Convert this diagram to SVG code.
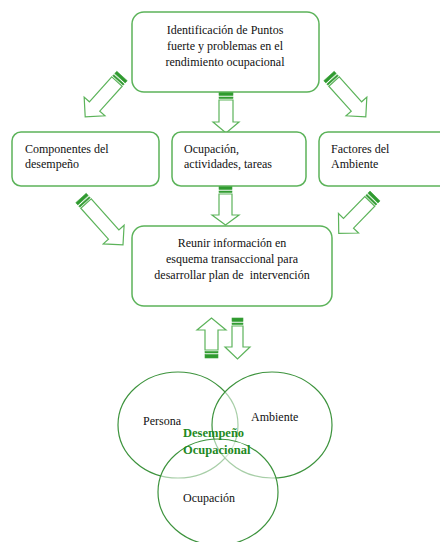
<svg xmlns="http://www.w3.org/2000/svg" width="440" height="542" viewBox="0 0 440 542">
  <style>
    .box { fill: #ffffff; stroke: #5cb35a; stroke-width: 1.5; }
    .txt { font-size: 12px; fill: #111111; }
    .mid { text-anchor: middle; }
    .arrow-body { fill: #ffffff; stroke: #5cb35a; stroke-width: 1.2; stroke-linejoin: miter; }
    .stripe { fill: #2f9a2f; stroke: #3aa03a; stroke-width: 0.6; }
    .ring { fill: #ffffff; fill-opacity: 0.55; stroke: #3d933d; stroke-width: 1.2; }
    .core { font-size: 12.5px; font-weight: bold; fill: #1f8a1f; }
  </style>

  <!-- Connectors: striped block arrows, drawn pointing along +y then placed -->
  <g id="connectors">
    <!-- top box to "Componentes del desempeño" -->
    <g transform="translate(122,76) rotate(42)">
      <rect class="stripe" x="-7" y="0" width="14" height="3"/>
      <rect class="stripe" x="-7" y="4.5" width="14" height="1.5"/>
      <path class="arrow-body" d="M-7,7.5 H7 V41 H14 L0,55 L-14,41 H-7 Z"/>
    </g>
    <!-- top box to "Ocupación, actividades, tareas" -->
    <g transform="translate(226,92)">
      <rect class="stripe" x="-7" y="0" width="14" height="3.5"/>
      <rect class="stripe" x="-7" y="5" width="14" height="1.5"/>
      <path class="arrow-body" d="M-7,8 H7 V30 H13 L0,41 L-13,30 H-7 Z"/>
    </g>
    <!-- top box to "Factores del Ambiente" -->
    <g transform="translate(329,76) rotate(-42)">
      <rect class="stripe" x="-7" y="0" width="14" height="3"/>
      <rect class="stripe" x="-7" y="4.5" width="14" height="1.5"/>
      <path class="arrow-body" d="M-7,7.5 H7 V41 H14 L0,55 L-14,41 H-7 Z"/>
    </g>
    <!-- "Componentes del desempeño" to lower box -->
    <g transform="translate(81,198) rotate(-41.8)">
      <rect class="stripe" x="-7" y="0" width="14" height="3"/>
      <rect class="stripe" x="-7" y="4.5" width="14" height="1.5"/>
      <path class="arrow-body" d="M-7,7.5 H7 V49 H14 L0,63 L-14,49 H-7 Z"/>
    </g>
    <!-- "Ocupación, actividades, tareas" to lower box -->
    <g transform="translate(225.5,186)">
      <rect class="stripe" x="-6.5" y="0" width="13" height="3.5"/>
      <rect class="stripe" x="-6.5" y="5" width="13" height="1.5"/>
      <path class="arrow-body" d="M-6.5,8 H6.5 V29 H13.5 L0,39 L-13.5,29 H-6.5 Z"/>
    </g>
    <!-- "Factores del Ambiente" to lower box -->
    <g transform="translate(375,196) rotate(44.2)">
      <rect class="stripe" x="-7" y="0" width="14" height="3"/>
      <rect class="stripe" x="-7" y="4.5" width="14" height="1.5"/>
      <path class="arrow-body" d="M-7,7.5 H7 V38 H14 L0,52 L-14,38 H-7 Z"/>
    </g>
    <!-- lower box and occupational performance: up -->
    <g transform="translate(211.5,358) rotate(180)">
      <rect class="stripe" x="-6.5" y="0" width="13" height="3.5"/>
      <rect class="stripe" x="-6.5" y="5" width="13" height="1.5"/>
      <path class="arrow-body" d="M-6.5,8 H6.5 V28 H14.5 L0,40 L-14.5,28 H-6.5 Z"/>
    </g>
    <!-- lower box and occupational performance: down -->
    <g transform="translate(237.5,318)">
      <rect class="stripe" x="-5.5" y="0" width="11" height="3.5"/>
      <rect class="stripe" x="-5.5" y="5" width="11" height="1.5"/>
      <path class="arrow-body" d="M-5.5,8 H5.5 V29 H12.5 L0,41 L-12.5,29 H-5.5 Z"/>
    </g>
  </g>

  <g font-family="Liberation Serif, serif">
  <g id="identificacion">
    <rect class="box" x="132" y="12" width="187" height="80" rx="12"/>
    <text class="txt mid" x="225" y="34">Identificación de Puntos</text>
    <text class="txt mid" x="225" y="50">fuerte y problemas en el</text>
    <text class="txt mid" x="225" y="66">rendimiento ocupacional</text>
  </g>

  <g id="componentes">
    <rect class="box" x="12" y="132" width="147" height="54" rx="9"/>
    <text class="txt" x="25" y="153">Componentes del</text>
    <text class="txt" x="25" y="168">desempeño</text>
  </g>

  <g id="ocupacion-actividades">
    <rect class="box" x="172" y="132" width="134" height="54" rx="9"/>
    <text class="txt" x="184" y="153">Ocupación,</text>
    <text class="txt" x="184" y="168">actividades, tareas</text>
  </g>

  <g id="factores">
    <rect class="box" x="319" y="132" width="135" height="54" rx="9"/>
    <text class="txt" x="331" y="153">Factores del</text>
    <text class="txt" x="331" y="168">Ambiente</text>
  </g>

  <g id="reunir">
    <rect class="box" x="132" y="226" width="200" height="80" rx="12"/>
    <text class="txt mid" x="232" y="247">Reunir información en</text>
    <text class="txt mid" x="232" y="263">esquema transaccional para</text>
    <text class="txt mid" x="232" y="279" xml:space="preserve">desarrollar plan de  intervención</text>
  </g>

  <g id="desempeno-ocupacional">
    <ellipse id="persona" class="ring" cx="178" cy="425" rx="60" ry="53"/>
    <ellipse id="ambiente" class="ring" cx="272" cy="425" rx="60" ry="53"/>
    <ellipse id="ocupacion" class="ring" cx="218" cy="492" rx="60" ry="53"/>
    <text class="txt" x="143" y="425">Persona</text>
    <text class="txt" x="251" y="421">Ambiente</text>
    <text class="txt" x="183" y="502">Ocupación</text>
    <text class="core" x="183" y="437">Desempeño</text>
    <text class="core" x="183" y="454">Ocupacional</text>
  </g>
  </g>
</svg>
